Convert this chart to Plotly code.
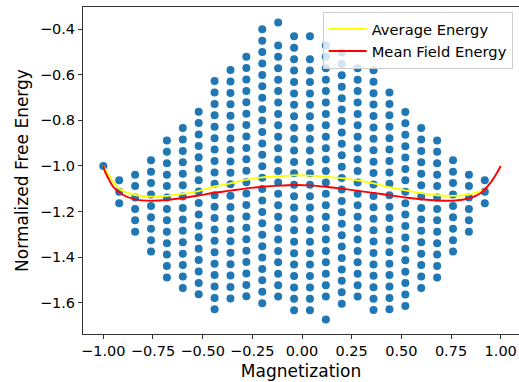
import plotly.graph_objects as go

# Magnetization columns and the free-energy levels observed in each column
magnetization_levels = [-1.00, -0.92, -0.84, -0.76, -0.68, -0.60, -0.52, -0.44, -0.36, -0.28, -0.20, -0.12,
                        -0.04, 0.04, 0.12, 0.20, 0.28, 0.36, 0.44, 0.52, 0.60, 0.68, 0.76, 0.84, 0.92]

energy_m100 = [-1.000]
energy_m092 = [-1.063, -1.113, -1.163]
energy_m084 = [-1.038, -1.088, -1.138, -1.188, -1.238, -1.288]
energy_m076 = [-0.975, -1.025, -1.075, -1.125, -1.175, -1.225, -1.275, -1.325, -1.375]
energy_m068 = [-0.888, -0.938, -0.988, -1.038, -1.088, -1.138, -1.188, -1.238, -1.288, -1.338, -1.388, -1.438, -1.488]
energy_m060 = [-0.834, -0.884, -0.934, -0.984, -1.034, -1.084, -1.134, -1.184, -1.234, -1.284, -1.334, -1.384,
               -1.434, -1.484, -1.534]
energy_m052 = [-0.762, -0.812, -0.862, -0.912, -0.962, -1.012, -1.062, -1.112, -1.162, -1.212, -1.262, -1.312,
               -1.362, -1.412, -1.462, -1.512, -1.562]
energy_m044 = [-0.628, -0.678, -0.728, -0.778, -0.828, -0.878, -0.928, -0.978, -1.028, -1.078, -1.128, -1.178,
               -1.228, -1.278, -1.328, -1.378, -1.428, -1.478, -1.528, -1.578, -1.628]
energy_m036 = [-0.580, -0.630, -0.680, -0.730, -0.780, -0.830, -0.880, -0.930, -0.980, -1.030, -1.080, -1.130,
               -1.180, -1.230, -1.280, -1.330, -1.380, -1.430, -1.480, -1.530, -1.580]
energy_m028 = [-0.521, -0.571, -0.621, -0.671, -0.721, -0.771, -0.821, -0.871, -0.921, -0.971, -1.021, -1.071,
               -1.121, -1.171, -1.221, -1.271, -1.321, -1.371, -1.421, -1.471, -1.521, -1.571]
energy_m020 = [-0.401, -0.451, -0.501, -0.551, -0.601, -0.651, -0.701, -0.751, -0.801, -0.851, -0.901, -0.951,
               -1.001, -1.051, -1.101, -1.151, -1.201, -1.251, -1.301, -1.351, -1.401, -1.451, -1.501, -1.551, -1.601]
energy_m012 = [-0.372, -0.472, -0.522, -0.572, -0.622, -0.672, -0.722, -0.772, -0.822, -0.872, -0.922, -0.972,
               -1.022, -1.072, -1.122, -1.172, -1.222, -1.272, -1.322, -1.372, -1.422, -1.472, -1.522, -1.572]
energy_m004 = [-0.432, -0.482, -0.532, -0.582, -0.632, -0.682, -0.732, -0.782, -0.832, -0.882, -0.932, -0.982,
               -1.032, -1.082, -1.132, -1.182, -1.232, -1.282, -1.332, -1.382, -1.432, -1.482, -1.532, -1.582, -1.632]
energy_p004 = [-0.432, -0.532, -0.582, -0.632, -0.682, -0.732, -0.782, -0.832, -0.882, -0.932, -0.982,
               -1.032, -1.082, -1.132, -1.182, -1.232, -1.282, -1.332, -1.382, -1.432, -1.482, -1.532, -1.582, -1.632]
energy_p012 = [-0.472, -0.522, -0.572, -0.622, -0.672, -0.722, -0.772, -0.822, -0.872, -0.922, -0.972, -1.022,
               -1.072, -1.122, -1.172, -1.222, -1.272, -1.322, -1.372, -1.422, -1.472, -1.522, -1.572, -1.672]
energy_p020 = [-0.503, -0.553, -0.603, -0.653, -0.703, -0.753, -0.803, -0.853, -0.903, -0.953, -1.003, -1.053,
               -1.103, -1.153, -1.203, -1.253, -1.303, -1.353, -1.403, -1.453, -1.503, -1.553, -1.603]
energy_p028 = [-0.572, -0.622, -0.672, -0.722, -0.772, -0.822, -0.872, -0.922, -0.972, -1.022, -1.072, -1.122,
               -1.172, -1.222, -1.272, -1.322, -1.372, -1.422, -1.472, -1.522, -1.572]
energy_p036 = [-0.581, -0.631, -0.681, -0.731, -0.781, -0.831, -0.881, -0.931, -0.981, -1.031, -1.081, -1.131,
               -1.181, -1.231, -1.281, -1.331, -1.381, -1.431, -1.481, -1.531, -1.581, -1.631]
energy_p044 = [-0.678, -0.728, -0.778, -0.828, -0.878, -0.928, -0.978, -1.028, -1.078, -1.128, -1.178, -1.228,
               -1.278, -1.328, -1.378, -1.428, -1.478, -1.528, -1.578, -1.628]
energy_p052 = [-0.763, -0.813, -0.863, -0.913, -0.963, -1.013, -1.063, -1.113, -1.163, -1.213, -1.263, -1.313,
               -1.363, -1.413, -1.463, -1.513, -1.563, -1.613]
energy_p060 = [-0.834, -0.884, -0.934, -0.984, -1.034, -1.084, -1.134, -1.184, -1.234, -1.284, -1.334, -1.384,
               -1.434, -1.484, -1.534]
energy_p068 = [-0.888, -0.938, -0.988, -1.038, -1.088, -1.138, -1.188, -1.238, -1.288, -1.338, -1.388, -1.438, -1.488]
energy_p076 = [-0.975, -1.025, -1.075, -1.125, -1.175, -1.225, -1.275, -1.325, -1.375]
energy_p084 = [-1.038, -1.088, -1.138, -1.188, -1.238, -1.288]
energy_p092 = [-1.063, -1.113, -1.163]

energy_levels = [energy_m100, energy_m092, energy_m084, energy_m076, energy_m068, energy_m060, energy_m052,
                 energy_m044, energy_m036, energy_m028, energy_m020, energy_m012, energy_m004, energy_p004,
                 energy_p012, energy_p020, energy_p028, energy_p036, energy_p044, energy_p052, energy_p060,
                 energy_p068, energy_p076, energy_p084, energy_p092]

# Average energy per magnetization column (yellow)
avg_m = magnetization_levels
avg_energy = [-1.000, -1.100, -1.127, -1.134, -1.131, -1.122, -1.110, -1.090, -1.076, -1.061, -1.050, -1.045,
              -1.041, -1.042, -1.047, -1.053, -1.063, -1.076, -1.093, -1.107, -1.119, -1.128, -1.131, -1.125, -1.105]

# Mean field free energy curve (red)
mf_m = [-1.00, -0.99, -0.975, -0.95, -0.90, -0.84, -0.76, -0.68, -0.60, -0.52, -0.44, -0.36, -0.28, -0.20,
        -0.12, -0.04, 0.04, 0.12, 0.20, 0.28, 0.36, 0.44, 0.52, 0.60, 0.68, 0.76, 0.84, 0.90, 0.95, 0.98, 1.00]
mf_energy = [-1.000, -1.028, -1.054, -1.091, -1.127, -1.146, -1.152, -1.149, -1.140, -1.129, -1.117, -1.108,
             -1.098, -1.091, -1.086, -1.083, -1.085, -1.091, -1.099, -1.109, -1.118, -1.128, -1.138, -1.146,
             -1.151, -1.152, -1.142, -1.118, -1.072, -1.032, -1.000]

x_ticks = [-1.0, -0.75, -0.5, -0.25, 0.0, 0.25, 0.5, 0.75, 1.0]
y_ticks = [-1.6, -1.4, -1.2, -1.0, -0.8, -0.6, -0.4]

scatter_x = []
scatter_y = []
for m, levels in zip(magnetization_levels, energy_levels):
    for e in levels:
        scatter_x.append(m)
        scatter_y.append(e)

font_family = "DejaVu Sans, Liberation Sans, sans-serif"

fig = go.Figure()
fig.add_trace(go.Scatter(x=scatter_x, y=scatter_y, mode="markers", showlegend=False,
                         marker=dict(color="#1f77b4", size=8, line=dict(width=0))))
fig.add_trace(go.Scatter(x=avg_m, y=avg_energy, mode="lines", name="Average Energy",
                         line=dict(color="#ffff00", width=1.9, shape="spline", smoothing=0.8)))
fig.add_trace(go.Scatter(x=mf_m, y=mf_energy, mode="lines", name="Mean Field Energy",
                         line=dict(color="#ff0000", width=1.9, shape="spline", smoothing=0.8)))

fig.update_layout(
    width=519, height=382,
    margin=dict(l=83, r=0, t=7, b=48, autoexpand=False),
    plot_bgcolor="white", paper_bgcolor="white",
    font=dict(family=font_family, color="black", size=14),
    legend=dict(x=0.9855, y=0.985, xanchor="right", yanchor="top",
                bgcolor="rgba(255,255,255,0.8)", bordercolor="#cccccc", borderwidth=1,
                font=dict(size=14.7, family=font_family), tracegroupgap=0, itemwidth=38),
    xaxis=dict(range=[-1.1022, 1.0921], tickvals=x_ticks, tickformat=".2f",
               showgrid=False, zeroline=False, showline=True, linecolor="#333333", linewidth=1,
               mirror=True, ticks="outside", ticklen=4, tickcolor="#333333",
               tickfont=dict(size=14.5), automargin=False,
               title=dict(text="Magnetization", font=dict(size=17), standoff=6)),
    yaxis=dict(range=[-1.7359, -0.3036], tickvals=y_ticks, tickformat=".1f",
               showgrid=False, zeroline=False, showline=True, linecolor="#333333", linewidth=1,
               mirror=False, ticks="outside", ticklen=4, tickcolor="#333333",
               tickfont=dict(size=14.5), automargin=False,
               title=dict(text="Normalized Free Energy", font=dict(size=17), standoff=6)),
)

fig.write_html("out.html")
